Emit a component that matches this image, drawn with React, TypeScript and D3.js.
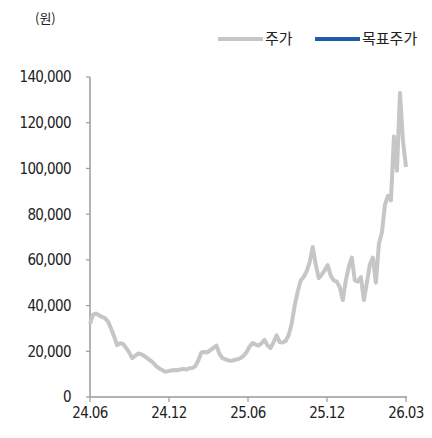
import * as d3 from "d3";

// ---------------------------------------------------------------------------
// Data (원, roughly weekly closes)
// ---------------------------------------------------------------------------

const PRICE: number[] = [
  32000, 36000, 36500, 35800, 35000, 34500, 33000, 30000, 26500, 22700,
  23500, 23200, 21500, 19500, 17000, 18000, 19000, 18700, 18000, 17000,
  16000, 15000, 13500, 12500, 11800, 11000, 11300, 11600, 11800, 11700,
  12000, 12300, 12000, 12600, 12700, 13500, 16000, 19500, 19700, 19500,
  20500, 21500, 22500, 19000, 17000, 16500, 16000, 15800, 16200, 16500,
  17000, 18000, 19500, 22000, 23600, 23000, 22500, 23500, 25000, 22500,
  21400, 24000, 27000, 24000, 23800, 24500, 27000, 32000, 40000, 46000,
  51000, 52500, 55000, 59000, 65600, 58000, 52000, 53500, 55500, 57700,
  53000, 51000, 50500, 48000, 42400, 51000, 57000, 61000, 51000, 50500,
  52500, 42400, 50000, 58000, 61000, 50000, 67000, 72000, 84000, 88000,
  86000, 114000, 99000, 133000, 112000, 100600,
];

const X_TICK_LABELS = ["24.06", "24.12", "25.06", "25.12", "26.03"];
const Y_TICKS = [0, 20000, 40000, 60000, 80000, 100000, 120000, 140000];

const LEGEND = [
  { label: "주가", color: "#c6c6c6" },
  { label: "목표주가", color: "#1d5ca8" },
];

// ---------------------------------------------------------------------------

const W = 432;
const H = 438;
const margin = { top: 77, right: 26, bottom: 41, left: 90 };

const NUM_FONT = "'Liberation Sans Narrow', 'DejaVu Sans Condensed', 'Liberation Sans', sans-serif";
const KR_FONT = "'Noto Sans CJK KR', 'Noto Sans', sans-serif";

export default function App() {
  const innerW = W - margin.left - margin.right;
  const innerH = H - margin.top - margin.bottom;

  const x = d3.scaleLinear().domain([0, PRICE.length - 1]).range([0, innerW]);
  const y = d3.scaleLinear().domain([0, 140000]).range([innerH, 0]);

  const line = d3
    .line<number>()
    .x((_d, i) => x(i))
    .y((d) => y(d));

  const fmt = d3.format(",");
  const xTicks = X_TICK_LABELS.map((label, i) => ({
    label,
    pos: x(((PRICE.length - 1) * i) / (X_TICK_LABELS.length - 1)),
  }));

  return (
    <div style={{ position: "absolute", left: 0, top: 0 }}>
      <svg width={W} height={H} style={{ display: "block", background: "#fff" }}>
        {/* unit */}
        <text x={35} y={23} fontFamily={KR_FONT} fontSize={13} fill="#222">
          (원)
        </text>

        {/* legend */}
        <g transform="translate(218,39)">
          {LEGEND.map((d, i) => {
            const ox = i === 0 ? 0 : 97;
            return (
              <g key={d.label} transform={`translate(${ox},0)`}>
                <line x1={0} x2={45} y1={0} y2={0} stroke={d.color} strokeWidth={4} />
                <text
                  x={47}
                  y={0}
                  dy="0.36em"
                  fontFamily={KR_FONT}
                  fontSize={15}
                  fill="#222"
                >
                  {d.label}
                </text>
              </g>
            );
          })}
        </g>

        <g transform={`translate(${margin.left},${margin.top})`}>
          {/* y axis */}
          <line x1={0} x2={0} y1={0} y2={innerH} stroke="#9a9a9a" strokeWidth={1.5} />
          {Y_TICKS.map((t) => (
            <g key={t} transform={`translate(0,${y(t)})`}>
              <line x1={-4} x2={0} stroke="#9a9a9a" strokeWidth={1.2} />
              <text
                x={-19}
                dy="0.36em"
                textAnchor="end"
                fontFamily={NUM_FONT}
                fontSize={15}
                letterSpacing={-0.6}
                fill="#222"
              >
                {fmt(t)}
              </text>
            </g>
          ))}

          {/* x axis */}
          <line x1={0} x2={innerW + 1} y1={innerH} y2={innerH} stroke="#9a9a9a" strokeWidth={1.5} />
          {xTicks.map((t) => (
            <g key={t.label} transform={`translate(${t.pos},${innerH})`}>
              <line y1={0} y2={5} stroke="#9a9a9a" strokeWidth={1.2} />
              <text
                y={16}
                dy="0.36em"
                textAnchor="middle"
                fontFamily={NUM_FONT}
                fontSize={15}
                letterSpacing={-0.6}
                fill="#222"
              >
                {t.label}
              </text>
            </g>
          ))}

          {/* price line */}
          <path
            d={line(PRICE) ?? ""}
            fill="none"
            stroke="#c6c6c6"
            strokeWidth={4}
            strokeLinejoin="round"
          />
        </g>
      </svg>
    </div>
  );
}
